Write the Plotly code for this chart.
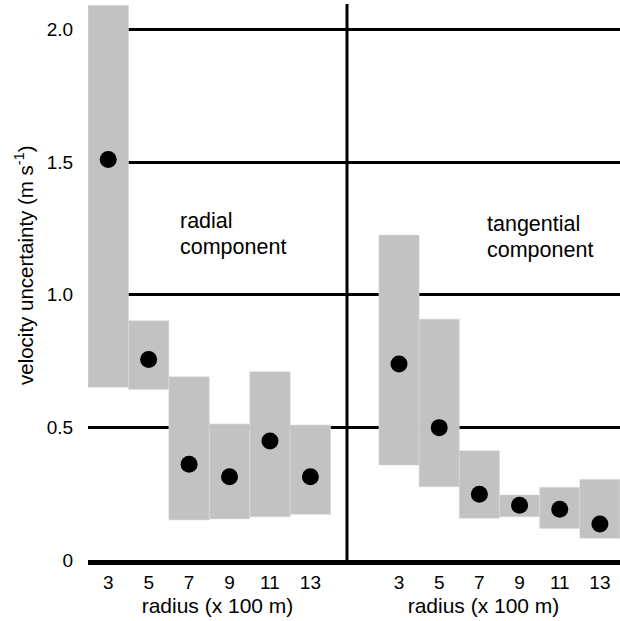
import plotly.graph_objects as go

radius = [3, 5, 7, 9, 11, 13]
tick_labels = ["3", "5", "7", "9", "11", "13"]

radial_value = [1.51, 0.756, 0.361, 0.314, 0.449, 0.314]
radial_low = [0.651, 0.643, 0.151, 0.155, 0.163, 0.172]
radial_high = [2.09, 0.902, 0.691, 0.513, 0.71, 0.509]

tang_value = [0.739, 0.499, 0.248, 0.206, 0.191, 0.136]
tang_low = [0.358, 0.276, 0.157, 0.163, 0.119, 0.082]
tang_high = [1.225, 0.908, 0.412, 0.245, 0.274, 0.304]

y_ticks = [0, 0.5, 1.0, 1.5, 2.0]
y_tick_labels = ["0", "0.5", "1.0", "1.5", "2.0"]

FONT = "Liberation Sans, Arial, sans-serif"
GREY = "#c2c2c2"

fig = go.Figure()

fig.add_trace(go.Bar(
    x=radius, y=[h - l for h, l in zip(radial_high, radial_low)], base=radial_low,
    width=2, marker=dict(color=GREY, line=dict(width=0.6, color="#dadada")),
    xaxis="x", yaxis="y", showlegend=False))
fig.add_trace(go.Scatter(
    x=radius, y=radial_value, mode="markers",
    marker=dict(color="black", size=17), xaxis="x", yaxis="y", showlegend=False))

fig.add_trace(go.Bar(
    x=radius, y=[h - l for h, l in zip(tang_high, tang_low)], base=tang_low,
    width=2, marker=dict(color=GREY, line=dict(width=0.6, color="#dadada")),
    xaxis="x2", yaxis="y", showlegend=False))
fig.add_trace(go.Scatter(
    x=radius, y=tang_value, mode="markers",
    marker=dict(color="black", size=17), xaxis="x2", yaxis="y", showlegend=False))

split = (347 - 88) / 532.0

xcommon = dict(
    tickmode="array", tickvals=radius, ticktext=tick_labels,
    showgrid=False, zeroline=False, showline=True, linecolor="black", linewidth=5,
    ticks="outside", ticklen=1, tickcolor="rgba(0,0,0,0)",
    tickfont=dict(family=FONT, size=19, color="black"),
    title=dict(text="radius (x 100 m)", font=dict(family=FONT, size=21, color="black"), standoff=8),
)

fig.update_layout(
    width=620, height=621,
    margin=dict(l=88, r=0, t=4, b=61),
    paper_bgcolor="white", plot_bgcolor="white",
    barmode="overlay",
    xaxis=dict(domain=[0, split], range=[2, 14.81], anchor="y", **xcommon),
    xaxis2=dict(domain=[split, 1], range=[0.41, 14], anchor="y", **xcommon),
    yaxis=dict(
        range=[0, 2.096], tickmode="array", tickvals=y_ticks, ticktext=y_tick_labels,
        showgrid=True, gridcolor="black", gridwidth=2.5, zeroline=False, showline=False,
        ticks="outside", ticklen=10, tickcolor="rgba(0,0,0,0)",
        tickfont=dict(family=FONT, size=19, color="black"),
    ),
    shapes=[dict(type="line", xref="paper", yref="paper", x0=split, x1=split, y0=0, y1=1,
                 line=dict(color="black", width=3))],
    annotations=[
        dict(text="velocity uncertainty (m s<sup>-1</sup>)", xref="paper", yref="paper",
             x=(24 - 88) / 532.0, y=(560 - 266) / 556.0, textangle=-90, showarrow=False,
             xanchor="center", yanchor="middle", font=dict(family=FONT, size=20.5, color="black")),
        dict(text="radial", xref="paper", yref="paper", x=(178 - 88) / 532.0, y=(560 - 221) / 556.0,
             showarrow=False, xanchor="left", yanchor="middle", font=dict(family=FONT, size=21.5, color="black")),
        dict(text="component", xref="paper", yref="paper", x=(178 - 88) / 532.0, y=(560 - 247) / 556.0,
             showarrow=False, xanchor="left", yanchor="middle", font=dict(family=FONT, size=21.5, color="black")),
        dict(text="tangential", xref="paper", yref="paper", x=(485 - 88) / 532.0, y=(560 - 224) / 556.0,
             showarrow=False, xanchor="left", yanchor="middle", font=dict(family=FONT, size=21.5, color="black")),
        dict(text="component", xref="paper", yref="paper", x=(485 - 88) / 532.0, y=(560 - 250) / 556.0,
             showarrow=False, xanchor="left", yanchor="middle", font=dict(family=FONT, size=21.5, color="black")),
    ],
)

fig.write_html("out.html", config={"displayModeBar": False},
               post_script="document.body.style.margin='0';")
